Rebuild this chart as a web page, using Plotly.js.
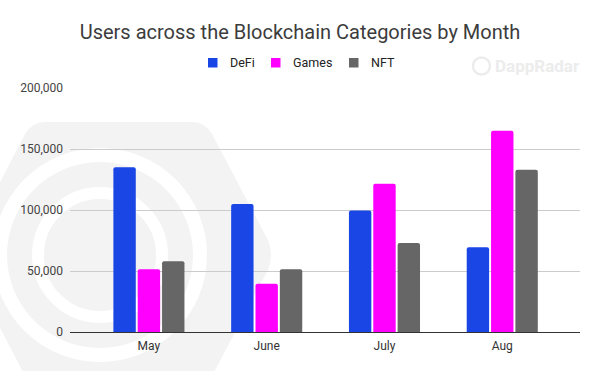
<!DOCTYPE html>
<html>
<head>
<meta charset="utf-8">
<script src="https://cdn.plot.ly/plotly-3.0.1.min.js"></script>
<style>html,body{margin:0;padding:0;background:#fff;}#chart{width:600px;height:371px;}</style>
</head>
<body>
<div id="chart"></div>
<script>
const months = ["May", "June", "July", "Aug"];
const seriesNames = ["DeFi", "Games", "NFT"];
const defi = [135000, 105000, 99500, 69500];
const games = [51500, 39500, 121500, 165000];
const nft = [58000, 51500, 73000, 133000];
const yTickVals = [0, 50000, 100000, 150000, 200000];
const yTickText = ["0", "50,000", "100,000", "150,000", "200,000"];

const colors = ["#1a46e6", "#ff00ff", "#666666"];
const font = "Roboto, 'Liberation Sans', Arial, sans-serif";

const values = [defi, games, nft];
const traces = seriesNames.map(function (n, i) {
  return {type: "bar", name: n, x: months, y: values[i], marker: {color: colors[i]}, showlegend: false};
});

function px(xp) { return (xp - 70) / 510; }
function py(yp) { return (332 - yp) / 244; }

const layout = {
  width: 600, height: 371,
  margin: {l: 70, r: 20, t: 88, b: 39},
  paper_bgcolor: "#ffffff",
  plot_bgcolor: "rgba(0,0,0,0)",
  font: {family: font, size: 12, color: "#444"},
  title: {
    text: "Users across the Blockchain Categories by Month",
    font: {family: font, size: 20, color: "#3c3c3c"},
    x: 0.5, xanchor: "center", xref: "container",
    y: 1 - 32 / 371, yanchor: "middle", yref: "container"
  },
  showlegend: false,
  barmode: "group",
  bargap: 0.38,
  bargroupgap: 0.08,
  barcornerradius: 2,
  xaxis: {
    range: [-0.67, 3.66],
    showgrid: false, zeroline: false, showline: false,
    ticks: "", ticklabelstandoff: 5,
    tickfont: {family: font, size: 12, color: "#333"},
    fixedrange: true
  },
  yaxis: {
    range: [0, 200000],
    tickvals: yTickVals, ticktext: yTickText,
    showgrid: true, gridcolor: "#cccccc", gridwidth: 1,
    zeroline: true, zerolinecolor: "#333333", zerolinewidth: 1,
    showline: false, ticks: "", ticklabelstandoff: 6,
    tickfont: {family: font, size: 12, color: "#444"},
    fixedrange: true
  },
  shapes: [],
  annotations: []
};

// manual legend (positions in pixels)
const legendSquareX = [208, 271, 349];
seriesNames.forEach(function (n, i) {
  const x0 = legendSquareX[i];
  layout.shapes.push({type: "rect", xref: "paper", yref: "paper",
    x0: px(x0), x1: px(x0 + 9.5), y0: py(67.5), y1: py(58),
    fillcolor: colors[i], line: {width: 0}});
  layout.annotations.push({text: n, xref: "paper", yref: "paper",
    x: px(x0 + 20), y: py(62.5), xanchor: "left", yanchor: "middle", showarrow: false,
    font: {family: font, size: 12.5, color: "#222"}});
});

// faint background watermark (rounded hexagon + radar rings)
const hex = "M 45 122 L 192 122 Q 205 122 212 134 L 268 240 Q 274 255 268 270 L 212 376 L 25 376 L -30 270 Q -36 255 -30 240 L 25 134 Q 32 122 45 122 Z";
function pathFromPixels(d) {
  return d.replace(/(-?\d+(?:\.\d+)?) (-?\d+(?:\.\d+)?)/g, function (m, a, b) {
    return px(parseFloat(a)).toFixed(4) + " " + py(parseFloat(b)).toFixed(4);
  });
}
layout.shapes.push({type: "path", xref: "paper", yref: "paper", layer: "below",
  path: pathFromPixels(hex), fillcolor: "#f3f3f3", line: {width: 0}});
const rings = [[100, 255, 100, 14], [100, 255, 62, 12]];
rings.forEach(function (r) {
  layout.shapes.push({type: "circle", xref: "paper", yref: "paper", layer: "below",
    x0: px(r[0] - r[2]), x1: px(r[0] + r[2]), y0: py(r[1] + r[2]), y1: py(r[1] - r[2]),
    line: {color: "#ffffff", width: r[3]}, fillcolor: "rgba(0,0,0,0)"});
});
// DappRadar watermark text + icon
layout.annotations.push({text: "<b>DappRadar</b>", xref: "paper", yref: "paper",
  x: px(493), y: py(66), xanchor: "left", yanchor: "middle",
  showarrow: false, font: {family: font, size: 17, color: "#ececec"}});
layout.shapes.push({type: "circle", xref: "paper", yref: "paper",
  x0: px(473), x1: px(490), y0: py(74.5), y1: py(57.5),
  line: {color: "#ececec", width: 2.5}, fillcolor: "rgba(0,0,0,0)"});

Plotly.newPlot("chart", traces, layout, {displayModeBar: false, staticPlot: true});
</script>
</body>
</html>
